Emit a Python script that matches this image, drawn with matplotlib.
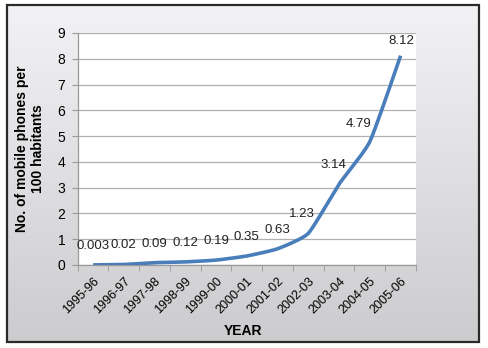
import matplotlib.pyplot as plt
from matplotlib.patches import Rectangle
import numpy as np

# data
years = ['1995-96', '1996-97', '1997-98', '1998-99', '1999-00', '2000-01',
         '2001-02', '2002-03', '2003-04', '2004-05', '2005-06']
phones = [0.003, 0.02, 0.09, 0.12, 0.19, 0.35, 0.63, 1.23, 3.14, 4.79, 8.12]
labels = ['0.003', '0.02', '0.09', '0.12', '0.19', '0.35', '0.63', '1.23',
          '3.14', '4.79', '8.12']
yticks = list(range(0, 10))

W, H = 488, 348
fig = plt.figure(figsize=(W / 100, H / 100), dpi=100)
fig.patch.set_facecolor('white')

# gray gradient background inside the frame
x0, y0, x1, y1 = 7, 5, 479, 342
bg = fig.add_axes([x0 / W, 1 - y1 / H, (x1 - x0) / W, (y1 - y0) / H], zorder=0)
grad = np.linspace(0, 1, 256).reshape(-1, 1)
top = np.array([0.95, 0.95, 0.96])
bot = np.array([0.80, 0.80, 0.81])
img = top + (bot - top) * grad[:, :, None]
bg.imshow(img, aspect='auto', extent=[0, 1, 0, 1], origin='upper')
bg.set_axis_off()
fig.patches.append(Rectangle((x0 / W, 1 - y1 / H), (x1 - x0) / W, (y1 - y0) / H,
                             transform=fig.transFigure, fill=False,
                             edgecolor='#2a2a2a', linewidth=1.6, zorder=5))

# plot area
px0, px1, py0, py1 = 77.7, 416, 33, 265
ax = fig.add_axes([px0 / W, 1 - py1 / H, (px1 - px0) / W, (py1 - py0) / H], zorder=2)
ax.set_facecolor('white')

x = np.arange(len(years))
# lightly smoothed curve through the points, like Excel's smoothed line
pts = np.column_stack([x, phones]).astype(float)
ext = np.vstack([pts[0], pts, pts[-1]])
curve = []
for i in range(1, len(ext) - 2):
    p0, p1, p2, p3 = ext[i - 1], ext[i], ext[i + 1], ext[i + 2]
    c1 = p1 + (p2 - p0) / 12
    c2 = p2 - (p3 - p1) / 12
    t = np.linspace(0, 1, 20)[:, None]
    seg = (1 - t) ** 3 * p1 + 3 * (1 - t) ** 2 * t * c1 + 3 * (1 - t) * t ** 2 * c2 + t ** 3 * p2
    curve.append(seg)
curve = np.vstack(curve)
ax.plot(curve[:, 0], curve[:, 1], color='#4a7ebb', linewidth=2.6,
        solid_capstyle='butt', zorder=3)

offsets = [(0, 19)] * 7 + [(-6, 19), (-6, 19), (-11, 18), (1, 15)]
for xi, v, lab, off in zip(x, phones, labels, offsets):
    ax.annotate(lab, (xi, v), xytext=off, textcoords='offset pixels',
                ha='center', va='center', fontsize=9.5, color='#222222',
                family='Liberation Sans', zorder=4)

ax.set_xlim(-0.5, len(years) - 0.5)
ax.set_ylim(0, 9)
ax.set_yticks(yticks)
ax.set_yticklabels([str(v) for v in yticks], fontsize=10, family='Liberation Sans')
ax.set_xticks(x)
ax.set_xticklabels(years, rotation=45, ha='right', rotation_mode='anchor',
                   fontsize=9, family='Liberation Sans')
ax.set_xticks(np.arange(-0.5, len(years)), minor=True)
ax.tick_params(axis='x', which='major', length=0, pad=7)
ax.tick_params(axis='x', which='minor', length=4, color='#999999')
ax.tick_params(axis='y', length=4, color='#999999', pad=5)
ax.grid(axis='y', color='#b0b0b0', linewidth=0.9)
ax.set_axisbelow(True)
for s in ['top', 'right']:
    ax.spines[s].set_visible(False)
for s in ['left', 'bottom']:
    ax.spines[s].set_color('#999999')
    ax.spines[s].set_linewidth(0.9)

fig.text(30 / W, 1 - 149 / H, 'No. of mobile phones per\n100 habitants',
         rotation=90, ha='center', va='center', fontsize=10, fontweight='bold',
         family='Liberation Sans', linespacing=1.1)
fig.text(243 / W, 1 - 331 / H, 'YEAR', ha='center', va='center', fontsize=10,
         fontweight='bold', family='Liberation Sans')

fig.savefig('out.png', dpi=100)
